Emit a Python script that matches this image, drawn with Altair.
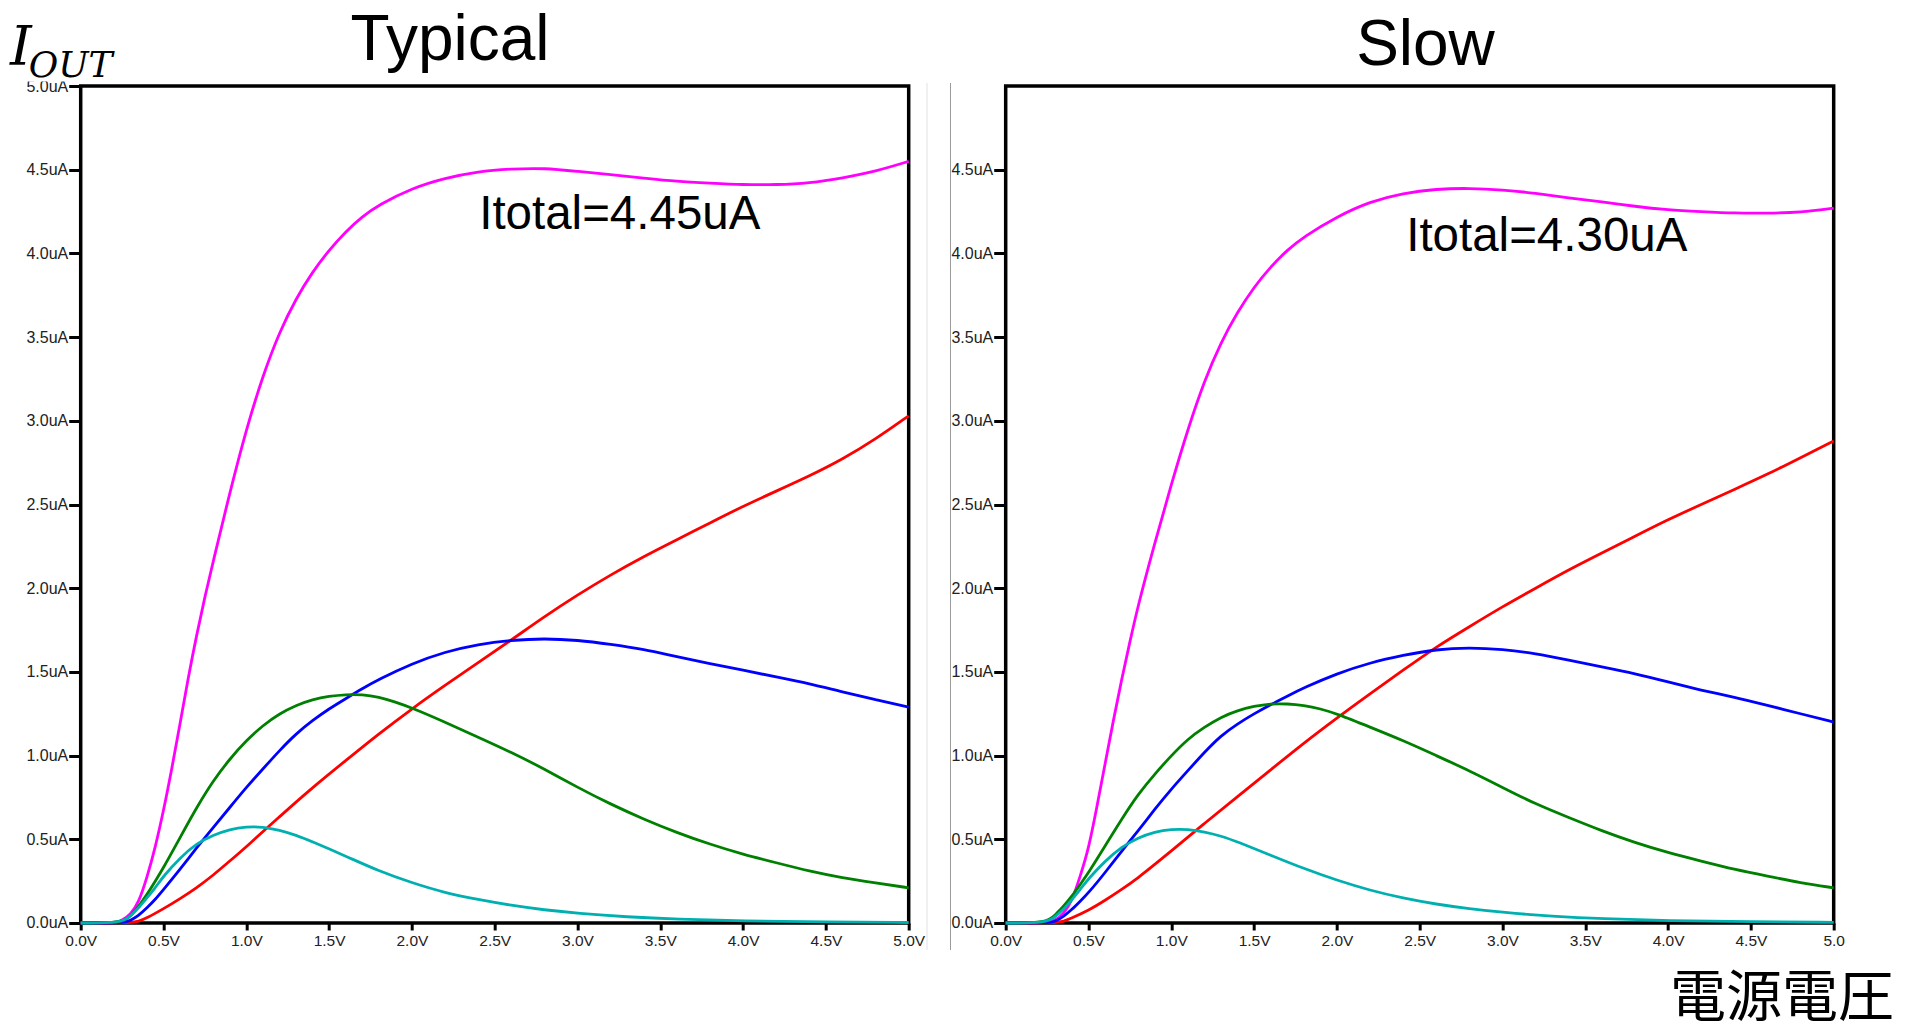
import altair as alt
import pandas as pd

# ---------------- data ----------------
TICK_V = [0.0, 0.5, 1.0, 1.5, 2.0, 2.5, 3.0, 3.5, 4.0, 4.5, 5.0]
TICK_I_TYP = [0.0, 0.5, 1.0, 1.5, 2.0, 2.5, 3.0, 3.5, 4.0, 4.5, 5.0]
TICK_I_SLOW = [0.0, 0.5, 1.0, 1.5, 2.0, 2.5, 3.0, 3.5, 4.0, 4.5]

SERIES = ["Itotal", "I1", "I2", "I3", "I4"]
COLORS = ["#ff00ff", "#ff0000", "#0000ff", "#008000", "#00b0b0"]

# Typical corner
TYP_TOTAL_V = [0, 0.2, 0.25, 0.3, 0.35, 0.4, 0.45, 0.5, 0.55, 0.6, 0.65, 0.7, 0.75, 0.8, 0.9, 1.0,
               1.1, 1.2, 1.3, 1.4, 1.5, 1.6, 1.7, 1.8, 2.0, 2.2, 2.4, 2.6, 2.8, 3.0, 3.2, 3.4, 3.6,
               3.8, 4.0, 4.2, 4.4, 4.6, 4.8, 5.0]
TYP_TOTAL_I = [0, 0, 0.015, 0.05, 0.12, 0.27, 0.45, 0.67, 0.92, 1.19, 1.47, 1.72, 1.95, 2.16, 2.57,
               2.95, 3.27, 3.53, 3.73, 3.89, 4.02, 4.13, 4.22, 4.29, 4.39, 4.45, 4.49, 4.505, 4.51,
               4.49, 4.47, 4.45, 4.43, 4.42, 4.41, 4.41, 4.42, 4.45, 4.49, 4.55]

TYP_RED_V = [0, 0.3, 0.35, 0.4, 0.5, 0.6, 0.7, 0.8, 0.9, 1.0, 1.2, 1.4, 1.6, 1.8, 2.0, 2.2, 2.4,
             2.6, 2.8, 3.0, 3.2, 3.4, 3.6, 3.8, 4.0, 4.2, 4.4, 4.6, 4.8, 5.0]
TYP_RED_I = [0, 0, 0.01, 0.03, 0.085, 0.145, 0.21, 0.285, 0.37, 0.455, 0.635, 0.81, 0.97, 1.13,
             1.28, 1.42, 1.555, 1.69, 1.83, 1.96, 2.08, 2.19, 2.29, 2.39, 2.49, 2.58, 2.67, 2.77,
             2.89, 3.03]

TYP_BLUE_V = [0, 0.27, 0.3, 0.35, 0.4, 0.45, 0.5, 0.6, 0.7, 0.8, 0.9, 1.0, 1.1, 1.2, 1.3, 1.4,
              1.5, 1.6, 1.7, 1.8, 2.0, 2.2, 2.4, 2.6, 2.8, 3.0, 3.2, 3.4, 3.6, 3.8, 4.0, 4.2, 4.4,
              4.6, 4.8, 5.0]
TYP_BLUE_I = [0, 0, 0.015, 0.045, 0.09, 0.14, 0.20, 0.32, 0.45, 0.57, 0.69, 0.81, 0.92, 1.03,
              1.13, 1.21, 1.28, 1.34, 1.40, 1.455, 1.55, 1.62, 1.665, 1.69, 1.70, 1.69, 1.665,
              1.635, 1.59, 1.55, 1.51, 1.47, 1.43, 1.38, 1.335, 1.29]

TYP_GREEN_V = [0, 0.25, 0.3, 0.35, 0.4, 0.45, 0.5, 0.6, 0.7, 0.8, 0.9, 1.0, 1.1, 1.2, 1.3, 1.4,
               1.5, 1.6, 1.7, 1.8, 1.9, 2.0, 2.2, 2.4, 2.6, 2.8, 3.0, 3.2, 3.4, 3.6, 3.8, 4.0, 4.2,
               4.4, 4.6, 4.8, 5.0]
TYP_GREEN_I = [0, 0, 0.04, 0.10, 0.17, 0.25, 0.33, 0.51, 0.69, 0.85, 0.98, 1.09, 1.18, 1.25, 1.30,
               1.335, 1.355, 1.365, 1.365, 1.35, 1.32, 1.285, 1.20, 1.11, 1.02, 0.92, 0.81, 0.71,
               0.62, 0.54, 0.47, 0.41, 0.36, 0.31, 0.27, 0.24, 0.21]

TYP_CYAN_V = [0, 0.25, 0.3, 0.35, 0.4, 0.45, 0.5, 0.6, 0.7, 0.8, 0.9, 1.0, 1.1, 1.2, 1.3, 1.4, 1.6,
              1.8, 2.0, 2.2, 2.4, 2.6, 2.8, 3.0, 3.3, 3.6, 4.0, 4.5, 5.0]
TYP_CYAN_I = [0, 0, 0.04, 0.09, 0.15, 0.21, 0.28, 0.39, 0.475, 0.525, 0.56, 0.575, 0.575, 0.555,
              0.525, 0.485, 0.40, 0.31, 0.24, 0.18, 0.14, 0.105, 0.078, 0.058, 0.036, 0.022, 0.012,
              0.006, 0.003]

# Slow corner
SLOW_TOTAL_V = TYP_TOTAL_V
SLOW_TOTAL_I = [0, 0, 0.005, 0.015, 0.055, 0.13, 0.28, 0.44, 0.69, 0.95, 1.21, 1.455, 1.68, 1.90,
                2.27, 2.62, 2.95, 3.24, 3.47, 3.65, 3.80, 3.92, 4.02, 4.10, 4.22, 4.31, 4.36, 4.385,
                4.39, 4.38, 4.36, 4.33, 4.31, 4.28, 4.26, 4.25, 4.24, 4.24, 4.245, 4.27]

SLOW_RED_V = TYP_RED_V
SLOW_RED_I = [0, 0, 0.01, 0.03, 0.075, 0.135, 0.20, 0.27, 0.35, 0.43, 0.595, 0.755, 0.915, 1.075,
              1.225, 1.37, 1.51, 1.65, 1.77, 1.89, 2.00, 2.11, 2.21, 2.31, 2.41, 2.50, 2.59, 2.68,
              2.78, 2.88]

SLOW_BLUE_V = TYP_BLUE_V
SLOW_BLUE_I = [0, 0, 0.01, 0.04, 0.08, 0.13, 0.18, 0.30, 0.43, 0.55, 0.68, 0.80, 0.91, 1.02, 1.12,
               1.19, 1.25, 1.305, 1.355, 1.405, 1.49, 1.555, 1.60, 1.635, 1.645, 1.635, 1.61, 1.57,
               1.53, 1.49, 1.44, 1.39, 1.35, 1.30, 1.25, 1.20]

SLOW_GREEN_V = TYP_GREEN_V
SLOW_GREEN_I = [0, 0, 0.05, 0.10, 0.16, 0.23, 0.30, 0.46, 0.62, 0.77, 0.89, 1.00, 1.10, 1.17, 1.23,
                1.27, 1.295, 1.31, 1.31, 1.30, 1.28, 1.25, 1.17, 1.09, 1.00, 0.91, 0.81, 0.71, 0.63,
                0.55, 0.48, 0.42, 0.37, 0.32, 0.28, 0.24, 0.21]

SLOW_CYAN_V = TYP_CYAN_V
SLOW_CYAN_I = [0, 0, 0.04, 0.08, 0.14, 0.20, 0.265, 0.37, 0.455, 0.51, 0.545, 0.56, 0.56, 0.545,
               0.52, 0.485, 0.405, 0.325, 0.255, 0.195, 0.148, 0.112, 0.085, 0.063, 0.04, 0.025,
               0.014, 0.007, 0.004]

TITLE_TYP = "Typical"
TITLE_SLOW = "Slow"
NOTE_TYP = "Itotal=4.45uA"
NOTE_SLOW = "Itotal=4.30uA"
Y_MAIN = "I"
Y_SUB = "OUT"
X_NAME = "電源電圧"


def long_table(items):
    rows = []
    for name, vs, cs in items:
        for v, c in zip(vs, cs):
            rows.append({"series": name, "V": v, "I": c})
    return pd.DataFrame(rows)


typ_df = long_table([
    ("Itotal", TYP_TOTAL_V, TYP_TOTAL_I), ("I1", TYP_RED_V, TYP_RED_I),
    ("I2", TYP_BLUE_V, TYP_BLUE_I), ("I3", TYP_GREEN_V, TYP_GREEN_I),
    ("I4", TYP_CYAN_V, TYP_CYAN_I)])
slow_df = long_table([
    ("Itotal", SLOW_TOTAL_V, SLOW_TOTAL_I), ("I1", SLOW_RED_V, SLOW_RED_I),
    ("I2", SLOW_BLUE_V, SLOW_BLUE_I), ("I3", SLOW_GREEN_V, SLOW_GREEN_I),
    ("I4", SLOW_CYAN_V, SLOW_CYAN_I)])

# ---------------- layout / style ----------------
W, H = 1753, 837
FONT = "Liberation Sans"
LABEL_COLOR = "#222222"


def panel(df, x_range, y_ticks, x_label_expr, y_offset):
    x_axis = alt.Axis(orient="bottom", values=TICK_V, labelExpr=x_label_expr, title="",
                      domain=False, grid=False, tickColor="black", tickWidth=3, tickSize=7,
                      labelFont=FONT, labelFontSize=15.5, labelColor=LABEL_COLOR,
                      labelPadding=4, labelFlush=False, labelOverlap=False)
    y_axis = alt.Axis(orient="left", offset=y_offset, values=y_ticks,
                      labelExpr="format(datum.value, '.1f') + 'uA'", title="",
                      domain=False, grid=False, tickColor="black", tickWidth=3, tickSize=12,
                      labelFont=FONT, labelFontSize=16, labelColor=LABEL_COLOR,
                      labelPadding=1, labelFlush=False, labelOverlap=False)
    xs = alt.Scale(domain=[0, 5], range=x_range, nice=False)
    ys = alt.Scale(domain=[0, 5], nice=False)
    frame_df = pd.DataFrame({"V0": [0.0], "V1": [5.0], "I0": [0.0], "I1": [5.0]})
    frame = alt.Chart(frame_df).mark_rect(fillOpacity=0, stroke="black", strokeWidth=3.5).encode(
        x=alt.X("V0:Q", scale=xs, axis=x_axis), x2="V1:Q",
        y=alt.Y("I0:Q", scale=ys, axis=y_axis), y2="I1:Q")
    lines = alt.Chart(df).mark_line(strokeWidth=2.8, interpolate="basis").encode(
        x=alt.X("V:Q", scale=xs, axis=x_axis),
        y=alt.Y("I:Q", scale=ys, axis=y_axis),
        color=alt.Color("series:N", scale=alt.Scale(domain=SERIES, range=COLORS), legend=None))
    return alt.layer(frame, lines)


def text(t, x, y, size, font=FONT, align="left", style="normal"):
    return alt.Chart(pd.DataFrame({"t": [t]})).mark_text(
        align=align, baseline="alphabetic", font=font, fontSize=size, fontStyle=style,
        color="black").encode(text="t:N", x=alt.value(x), y=alt.value(y))


def vrule(x, y0, y1, color):
    return alt.Chart(pd.DataFrame({"k": [0]})).mark_rule(color=color, strokeWidth=1).encode(
        x=alt.value(x), y=alt.value(y0), y2=alt.value(y1))


typ_panel = panel(typ_df, [0, 828], TICK_I_TYP,
                  "format(datum.value, '.1f') + 'V'", 0)
slow_panel = panel(slow_df, [925, 1753], TICK_I_SLOW,
                   "datum.value == 5 ? '5.0' : format(datum.value, '.1f') + 'V'", -925)

cover = alt.Chart(pd.DataFrame({"k": [0]})).mark_rect(color="white").encode(
    x=alt.value(-62), x2=alt.value(-13), y=alt.value(-28), y2=alt.value(-4.5))

chart = alt.layer(
    typ_panel,
    slow_panel,
    cover,
    vrule(846.3, -3, 864, "#e2e2e2"),
    vrule(869.8, -3, 864, "#9a9a9a"),
    text(TITLE_TYP, 369.3, -26, 64, align="center"),
    text(TITLE_SLOW, 1344.8, -21, 64, align="center"),
    text(NOTE_TYP, 398.5, 143, 47.5),
    text(NOTE_SLOW, 1325.5, 165, 47.5),
    text(Y_MAIN, -70.7, -21, 55, font="DejaVu Serif", style="italic"),
    text(Y_SUB, -52, -9.3, 36, font="DejaVu Serif", style="italic"),
    text(X_NAME, 1813.3, 930, 56, font="Noto Sans CJK JP", align="right"),
).resolve_scale(
    x="independent", y="independent"
).properties(
    width=W, height=H,
    padding={"left": 72.7, "top": 78, "right": 62, "bottom": 100},
    autosize=alt.AutoSizeParams(type="none"),
).configure_view(strokeOpacity=0)

chart.save("out.html", embed_options={"renderer": "svg", "actions": False})
